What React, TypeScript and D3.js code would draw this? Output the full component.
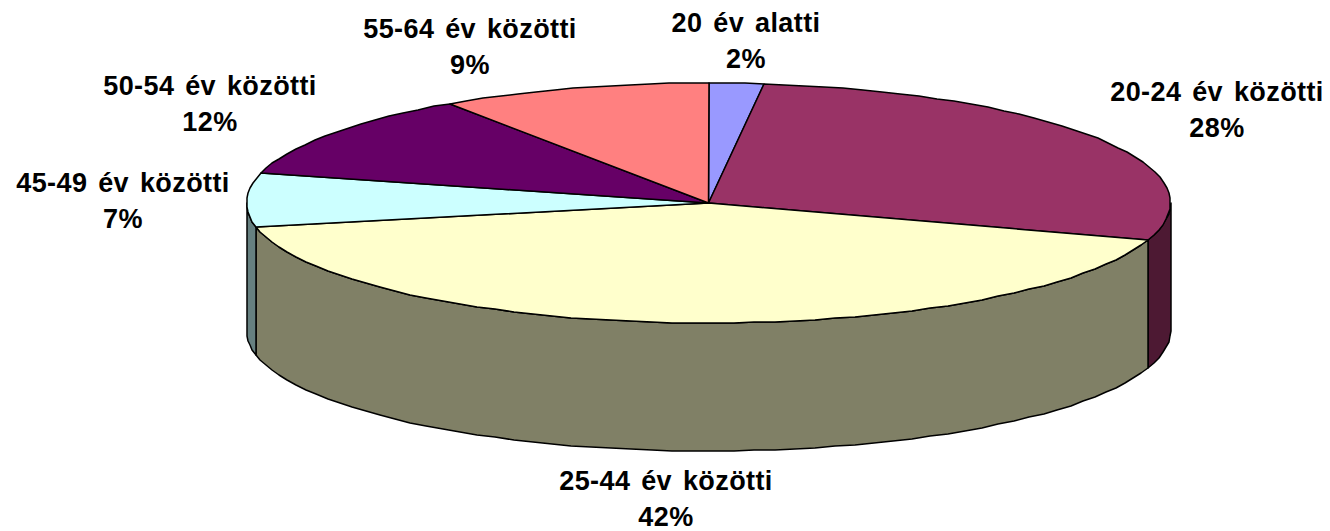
import * as d3 from 'd3';

const CATEGORIES = [
  '20 év alatti',
  '20-24 év közötti',
  '25-44 év közötti',
  '45-49 év közötti',
  '50-54 év közötti',
  '55-64 év közötti',
];
// printed percentages
const PERCENTS = [2, 28, 42, 7, 12, 9];
// unrounded shares, read from the slice boundaries
const SHARES = [1.9, 28.1, 41.8, 7.2, 11.55, 9.45];
const TOP_COLORS = ['#9999FF', '#993366', '#FFFFCC', '#CCFFFF', '#660066', '#FF8080'];
const SIDE_COLORS = ['#4D4D80', '#4D1933', '#808066', '#668080', '#330033', '#804040'];
// label centre x and first baseline
const LABEL_X = [746, 1217, 666, 123, 210, 470];
const LABEL_Y = [32, 101, 490, 192, 95, 38];

const WIDTH = 1330;
const HEIGHT = 531;
const CX = 708.5;
const CY = 203;
const RX = 462;
const RY = 120;
const DEPTH = 128;

const ox = (a: number) => Math.round(CX + RX * Math.sin(a));
const oy = (a: number) => Math.round(CY - RY * Math.cos(a));

// sampled ellipse edge, rounded to pixels because the original edge is stepped
function edge(a0: number, a1: number): [number, number][] {
  const n = Math.max(2, Math.ceil(Math.abs(a1 - a0) / 0.045));
  return d3.range(n + 1).map(i => {
    const a = a0 + ((a1 - a0) * i) / n;
    return [ox(a), oy(a)] as [number, number];
  });
}

const line = d3.line();

export default function App() {
  const arcs = d3.pie<number>().sort(null).startAngle(0).endAngle(2 * Math.PI)(SHARES);
  const stroke = { stroke: '#000', strokeWidth: 1.5, strokeLinejoin: 'round' as const };

  return (
    <svg
      width={WIDTH}
      height={HEIGHT}
      style={{ position: 'absolute', left: 0, top: 0, display: 'block', background: '#fff' }}
    >
      {/* Walls, only the front half of the ellipse shows */}
      {arcs.map((d, i) => {
        const a0 = Math.max(d.startAngle, Math.PI / 2);
        const a1 = Math.min(d.endAngle, (3 * Math.PI) / 2);
        if (a1 <= a0) return null;
        const top = edge(a0, a1);
        const bottom = top.map(([x, y]) => [x, y + DEPTH] as [number, number]).reverse();
        return (
          <path key={`side-${i}`} d={`${line([...top, ...bottom])}Z`} fill={SIDE_COLORS[i]} {...stroke} />
        );
      })}

      {/* Top faces */}
      {arcs.map((d, i) => (
        <path
          key={`top-${i}`}
          d={`${line([[CX, CY], ...edge(d.startAngle, d.endAngle)])}Z`}
          fill={TOP_COLORS[i]}
          {...stroke}
        />
      ))}

      {/* Labels */}
      {CATEGORIES.map((c, i) => (
        <text
          key={c}
          textAnchor="middle"
          fontFamily="'Liberation Sans', Arial, sans-serif"
          fontWeight={700}
          fontSize={27}
          letterSpacing={0.4}
          wordSpacing={3}
          fill="#000"
        >
          <tspan x={LABEL_X[i]} y={LABEL_Y[i]}>{c}</tspan>
          <tspan x={LABEL_X[i]} y={LABEL_Y[i] + 36}>{PERCENTS[i]}%</tspan>
        </text>
      ))}
    </svg>
  );
}
